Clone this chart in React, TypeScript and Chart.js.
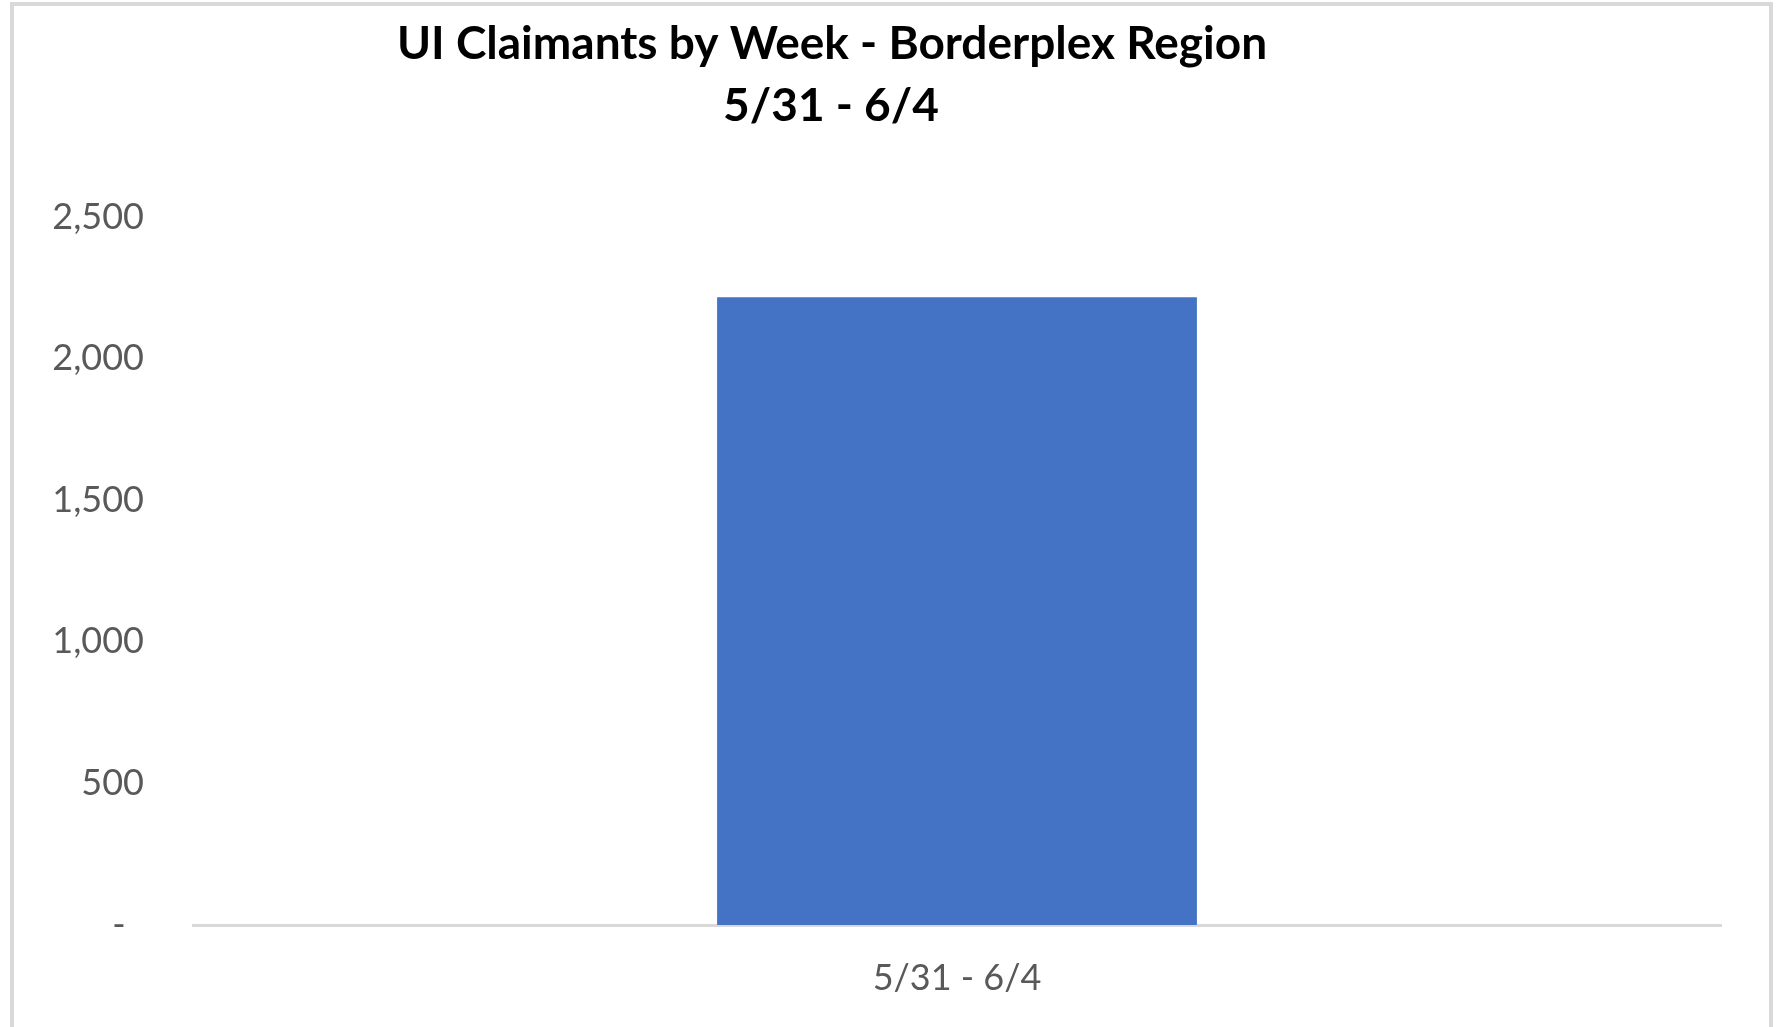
import React, { useEffect, useRef } from "react";
import { Chart, registerables } from "chart.js";

Chart.register(...registerables);

const titleLines = ["UI Claimants by Week - Borderplex Region", "5/31 - 6/4"];
const categories = ["5/31 - 6/4"];
const claimants = [2217];
const yTicks = [0, 500, 1000, 1500, 2000, 2500];

const FONT = "Lato, 'Open Sans', sans-serif";

const titlePlugin = {
  id: "excelTitle",
  afterDraw(chart: any) {
    const ctx = chart.ctx;
    ctx.save();
    ctx.fillStyle = "#000000";
    ctx.font = `bold 46px ${FONT}`;
    ctx.textAlign = "center";
    ctx.textBaseline = "middle";
    ctx.fillText(titleLines[0], 832, 44);
    ctx.fillText(titleLines[1], 831, 106);
    ctx.restore();
  },
};

export default function App() {
  const ref = useRef<HTMLCanvasElement | null>(null);
  useEffect(() => {
    if (!ref.current) return;
    const chart = new Chart(ref.current, {
      type: "bar",
      data: {
        labels: categories,
        datasets: [
          {
            label: "UI Claimants",
            data: claimants,
            backgroundColor: "#4472C4",
            borderWidth: 0,
            barPercentage: 1,
            categoryPercentage: 0.314,
          },
        ],
      },
      options: {
        animation: false,
        responsive: false,
        maintainAspectRatio: false,
        layout: { padding: { left: 0, top: 217, right: 59, bottom: 0 } },
        plugins: {
          legend: { display: false },
          title: { display: false },
          tooltip: { enabled: false },
        },
        scales: {
          x: {
            grid: { display: false, drawTicks: false },
            border: { display: true, color: "#d9d9d9", width: 3 },
            ticks: {
              color: "#595959",
              font: { family: FONT, size: 36 },
              padding: 32,
            },
            afterFit(scale: any) {
              scale.height = 102;
            },
          },
          y: {
            min: 0,
            max: 2500,
            afterBuildTicks(scale: any) {
              scale.ticks = yTicks.map((v) => ({ value: v }));
            },
            grid: { display: false, drawTicks: false },
            border: { display: false },
            ticks: {
              color: "#595959",
              font: { family: FONT, size: 36 },
              padding: 49,
              callback: (v: any) =>
                Number(v) === 0 ? "-  " : Number(v).toLocaleString("en-US"),
            },
            afterFit(scale: any) {
              scale.width = 193;
            },
          },
        },
      },
      plugins: [titlePlugin],
    });
    return () => chart.destroy();
  }, []);

  return (
    <div style={{ position: "fixed", left: 0, top: 0, width: 1780, height: 1027, background: "#ffffff", overflow: "hidden" }}>
      <div
        style={{
          position: "absolute",
          left: 10,
          top: 2,
          width: 1755,
          height: 1100,
          border: "4px solid #d9d9d9",
          boxSizing: "content-box",
        }}
      />
      <canvas ref={ref} width={1780} height={1027} style={{ position: "absolute", left: 0, top: 0, display: "block" }} />
    </div>
  );
}
